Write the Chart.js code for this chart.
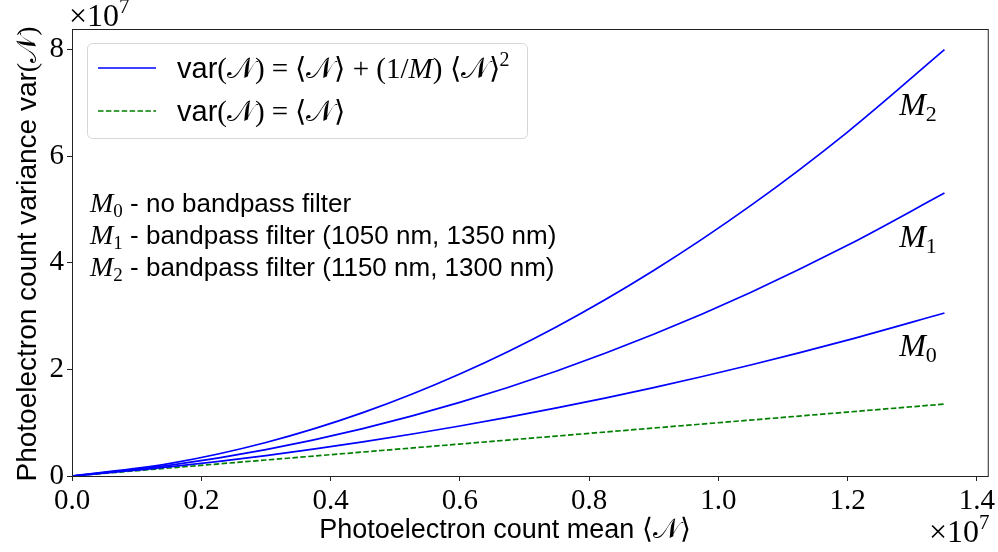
<!DOCTYPE html>
<html>
<head>
<meta charset="utf-8">
<script src="https://cdn.jsdelivr.net/npm/chart.js@4"></script>
<style>
  html, body { margin: 0; padding: 0; background: #fff; }
</style>
</head>
<body>
<canvas id="chart" width="998" height="552"></canvas>
<script>
// mean photoelectron count <N>, units of 1e7
const meanN = [0, 0.15, 0.30, 0.45, 0.60, 0.75, 0.90, 1.05, 1.20, 1.35];
// variance var(N), units of 1e7
const varM0 = [0, 0.171, 0.384, 0.640, 0.938, 1.278, 1.660, 2.084, 2.551, 3.059];
const varM1 = [0, 0.199, 0.496, 0.890, 1.382, 1.972, 2.660, 3.446, 4.329, 5.310];
const varM2 = [0, 0.232, 0.629, 1.189, 1.914, 2.803, 3.857, 5.074, 6.456, 8.002];
const varPoisson = [0, 0.15, 0.30, 0.45, 0.60, 0.75, 0.90, 1.05, 1.20, 1.35];

const xTicks = [0, 0.2, 0.4, 0.6, 0.8, 1.0, 1.2, 1.4];
const yTicks = [0, 2, 4, 6, 8];

const curveLabels = ['M0', 'M1', 'M2'];
const noteLines = [
  ['0', ' - no bandpass filter'],
  ['1', ' - bandpass filter (1050 nm, 1350 nm)'],
  ['2', ' - bandpass filter (1150 nm, 1300 nm)']
];

const SANS = '"Liberation Sans", sans-serif';
const SERIF = '"Liberation Serif", serif';
const SCRIPT_N = '\u{1D4A9}';
const BLUE = '#0000ff';
const GREEN = '#008000';

// where the M labels sit, in data units (x, y baseline)
const labelAt = [[1.28, 2.25], [1.28, 4.30], [1.28, 6.78]];

function pts(ys) {
  return meanN.map((x, i) => ({ x, y: ys[i] }));
}

// draw a sequence of differently styled text pieces on one baseline
function runsWidth(ctx, runs) {
  let w = 0;
  for (const r of runs) {
    ctx.font = r.f;
    w += ctx.measureText(r.t).width;
  }
  return w;
}

function drawRuns(ctx, x, y, runs) {
  for (const r of runs) {
    ctx.font = r.f;
    ctx.fillText(r.t, x, y + (r.dy || 0));
    x += ctx.measureText(r.t).width;
  }
  return x;
}

function varN(size) {
  return [
    { t: 'var', f: size + 'px ' + SANS },
    { t: '(', f: size + 'px ' + SERIF },
    { t: SCRIPT_N, f: size + 'px ' + SERIF },
    { t: ')', f: size + 'px ' + SERIF }
  ];
}

function meanBracket(size) {
  return [
    { t: '\u27E8', f: size + 'px ' + SERIF },
    { t: SCRIPT_N, f: size + 'px ' + SERIF },
    { t: '\u27E9', f: size + 'px ' + SERIF }
  ];
}

const frame = {
  id: 'frame',
  afterDraw(chart) {
    const { ctx, chartArea: a } = chart;
    ctx.save();
    ctx.strokeStyle = '#222';
    ctx.lineWidth = 1;
    ctx.strokeRect(a.left + 0.5, a.top + 0.5, a.right - a.left, a.bottom - a.top);
    ctx.restore();
  }
};

const annotations = {
  id: 'annotations',
  afterDraw(chart) {
    const { ctx, scales } = chart;
    ctx.save();
    ctx.fillStyle = '#000';
    ctx.textBaseline = 'alphabetic';
    ctx.textAlign = 'left';

    // axis titles
    const xTitle = [{ t: 'Photoelectron count mean ', f: '27px ' + SANS }, ...meanBracket(28)];
    const xw = runsWidth(ctx, xTitle);
    drawRuns(ctx, 505 - xw / 2, 538, xTitle);

    const yTitle = [{ t: 'Photoelectron count variance ', f: '28px ' + SANS }, ...varN(28)];
    const yw = runsWidth(ctx, yTitle);
    ctx.save();
    ctx.translate(36, 254);
    ctx.rotate(-Math.PI / 2);
    drawRuns(ctx, -yw / 2, 0, yTitle);
    ctx.restore();

    // offset multipliers
    const mult = [
      { t: '\u00D710', f: '32px ' + SERIF },
      { t: '7', f: '21px ' + SERIF, dy: -13 }
    ];
    drawRuns(ctx, 69, 26, mult);
    drawRuns(ctx, 929, 542, mult);

    // legend box
    const lx = 87, ly = 43, lw = 440, lh = 95;
    ctx.beginPath();
    ctx.roundRect(lx + 0.5, ly + 0.5, lw, lh, 5);
    ctx.fillStyle = 'rgba(255,255,255,0.8)';
    ctx.fill();
    ctx.strokeStyle = '#d6d6d6';
    ctx.lineWidth = 1;
    ctx.stroke();

    ctx.lineWidth = 1.6;
    ctx.strokeStyle = BLUE;
    ctx.beginPath();
    ctx.moveTo(98, 68);
    ctx.lineTo(156, 68);
    ctx.stroke();
    ctx.strokeStyle = GREEN;
    ctx.setLineDash([5.5, 2.4]);
    ctx.beginPath();
    ctx.moveTo(98, 111);
    ctx.lineTo(156, 111);
    ctx.stroke();
    ctx.setLineDash([]);

    ctx.fillStyle = '#000';
    const s = 29;
    const leg1 = [
      ...varN(s),
      { t: ' = ', f: s + 'px ' + SERIF },
      ...meanBracket(s),
      { t: ' + (1/', f: s + 'px ' + SERIF },
      { t: 'M', f: 'italic ' + s + 'px ' + SERIF },
      { t: ') ', f: s + 'px ' + SERIF },
      ...meanBracket(s),
      { t: '2', f: '20px ' + SERIF, dy: -12 }
    ];
    drawRuns(ctx, 177, 78, leg1);
    const leg2 = [...varN(s), { t: ' = ', f: s + 'px ' + SERIF }, ...meanBracket(s)];
    drawRuns(ctx, 177, 121, leg2);

    // filter notes
    noteLines.forEach((ln, i) => {
      const y = 212 + i * 32;
      drawRuns(ctx, 90, y, [
        { t: 'M', f: 'italic 28px ' + SERIF },
        { t: ln[0], f: '19px ' + SERIF, dy: 5 },
        { t: ln[1], f: '26px ' + SANS }
      ]);
    });

    // curve labels
    labelAt.forEach((p, i) => {
      const px = scales.x.getPixelForValue(p[0]);
      const py = scales.y.getPixelForValue(p[1]);
      drawRuns(ctx, px, py, [
        { t: curveLabels[i][0], f: 'italic 32px ' + SERIF },
        { t: curveLabels[i][1], f: '22px ' + SERIF, dy: 6 }
      ]);
    });
    ctx.restore();
  }
};

new Chart(document.getElementById('chart'), {
  type: 'line',
  data: {
    datasets: [
      { label: 'M0', data: pts(varM0), borderColor: BLUE },
      { label: 'M1', data: pts(varM1), borderColor: BLUE },
      { label: 'M2', data: pts(varM2), borderColor: BLUE },
      { label: 'Poisson', data: pts(varPoisson), borderColor: GREEN, borderDash: [5.5, 2.4] }
    ]
  },
  options: {
    responsive: false,
    animation: false,
    layout: { padding: { top: 29, right: 9, left: 0, bottom: 0 } },
    elements: {
      point: { radius: 0 },
      line: { borderWidth: 1.7, cubicInterpolationMode: 'monotone', fill: false }
    },
    plugins: { legend: { display: false }, tooltip: { enabled: false } },
    scales: {
      x: {
        type: 'linear',
        min: 0,
        max: 1.417,
        afterFit: s => { s.height = 76; },
        afterBuildTicks: s => { s.ticks = xTicks.map(v => ({ value: v })); },
        grid: { drawOnChartArea: false, tickLength: 5, color: '#222' },
        border: { color: '#222' },
        ticks: {
          color: '#000',
          padding: 3,
          maxRotation: 0,
          font: { family: SERIF, size: 29 },
          callback: v => v.toFixed(1)
        }
      },
      y: {
        type: 'linear',
        min: 0,
        max: 8.39,
        afterFit: s => { s.width = 72; },
        afterBuildTicks: s => { s.ticks = yTicks.map(v => ({ value: v })); },
        grid: { drawOnChartArea: false, tickLength: 5, color: '#222' },
        border: { color: '#222' },
        ticks: {
          color: '#000',
          padding: 3,
          font: { family: SERIF, size: 29 },
          callback: v => String(v)
        }
      }
    }
  },
  plugins: [frame, annotations]
});
</script>
</body>
</html>
